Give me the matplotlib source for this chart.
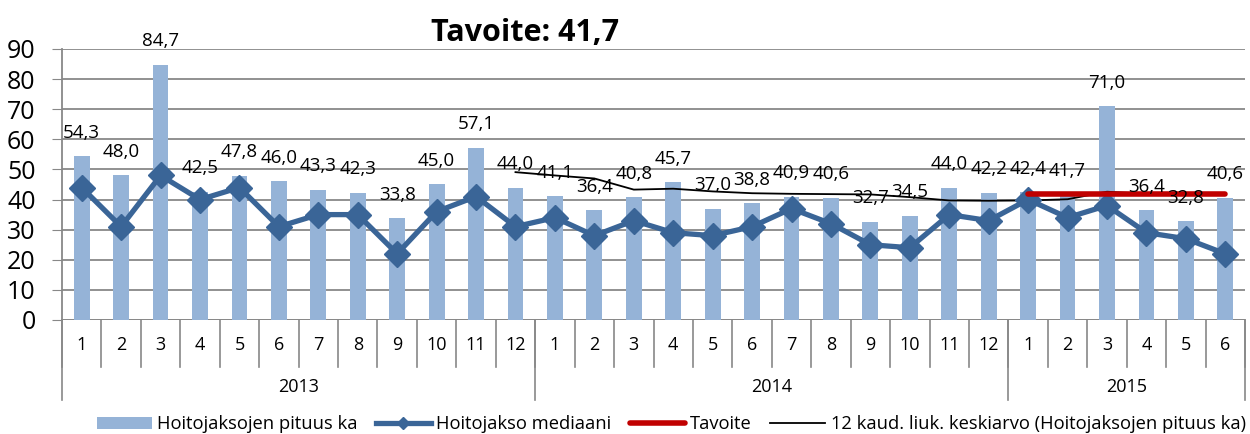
import matplotlib.pyplot as plt

plt.rcParams['font.family'] = ['Open Sans', 'DejaVu Sans']

# data
months = ['1', '2', '3', '4', '5', '6', '7', '8', '9', '10', '11', '12',
          '1', '2', '3', '4', '5', '6', '7', '8', '9', '10', '11', '12',
          '1', '2', '3', '4', '5', '6']
years = ['2013', '2014', '2015']
year_lengths = [12, 12, 6]

pituus_ka = [54.3, 48.0, 84.7, 42.5, 47.8, 46.0, 43.3, 42.3, 33.8, 45.0, 57.1, 44.0,
             41.1, 36.4, 40.8, 45.7, 37.0, 38.8, 40.9, 40.6, 32.7, 34.5, 44.0, 42.2,
             42.4, 41.7, 71.0, 36.4, 32.8, 40.6]
mediaani = [44, 31, 48, 40, 44, 31, 35, 35, 22, 36, 41, 31,
            34, 28, 33, 29, 28, 31, 37, 32, 25, 24, 35, 33,
            40, 34, 38, 29, 27, 22]
# 12 kaud. liukuva keskiarvo, starts at 2013/12
liuk_ka = [49.1, 48.0, 47.0, 43.3, 43.6, 42.7, 42.1, 41.9, 41.8, 41.7, 40.8, 39.7, 39.6,
           39.7, 40.1, 42.6, 41.9, 41.5, 41.7]
liuk_start = 11
tavoite = 41.7
tavoite_start = 24

x = list(range(len(months)))

fig = plt.figure(figsize=(12.5, 4.34), dpi=100)
ax = fig.add_axes([0.0496, 0.2627, 0.9464, 0.6244])

b = ax.bar(x, pituus_ka, width=0.4, color='#95B3D7', zorder=2,
           label='Hoitojaksojen pituus ka')
m, = ax.plot(x, mediaani, color='#3A6597', lw=3.8, marker='D', markersize=13,
             zorder=4, label='Hoitojakso mediaani')
t, = ax.plot(x[tavoite_start:], [tavoite] * len(x[tavoite_start:]), color='#C00000',
             lw=4, solid_capstyle='round', zorder=5, label='Tavoite')
l, = ax.plot(x[liuk_start:], liuk_ka, color='black', lw=1.3, zorder=3,
             label='12 kaud. liuk. keskiarvo (Hoitojaksojen pituus ka)')

for i, v in enumerate(pituus_ka):
    ax.annotate(('%.1f' % v).replace('.', ','), (i, v), xytext=(0, 17),
                textcoords='offset points', ha='center', va='center',
                fontsize=13.5, zorder=6)

ax.set_xlim(-0.5, len(months) - 0.5)
ax.set_ylim(0, 90)
ax.set_yticks(range(0, 100, 10))
ax.tick_params(axis='y', labelsize=18, length=7, color='#888888', pad=12)
ax.grid(axis='y', color='#888888', lw=1.3, zorder=0)
for s in ['top', 'right', 'bottom']:
    ax.spines[s].set_visible(False)
ax.spines['left'].set_color('#888888')
ax.spines['left'].set_linewidth(1.3)
ax.axhline(0, color='#888888', lw=1.3, zorder=1)

# two level category axis
ax.set_xticks([])
tr = ax.get_xaxis_transform()
for i, mo in enumerate(months):
    ax.text(i, -0.092, mo, transform=tr, ha='center', va='center', fontsize=13)
for k in range(len(months) + 1):
    ax.plot([k - 0.5, k - 0.5], [0, -0.173], transform=tr, color='#888888',
            lw=1.2, clip_on=False)
pos = 0
for yr, n in zip(years, year_lengths):
    ax.text(pos + n / 2 - 0.5, -0.247, yr, transform=tr, ha='center',
            va='center', fontsize=13)
    ax.plot([pos - 0.5, pos - 0.5], [0, -0.295], transform=tr,
            color='#888888', lw=1.2, clip_on=False)
    pos += n
ax.plot([pos - 0.5, pos - 0.5], [0, -0.295], transform=tr,
        color='#888888', lw=1.2, clip_on=False)

fig.text(0.42, 0.925, 'Tavoite: 41,7', ha='center', va='center',
         fontsize=22, fontweight='bold')

fig.legend([b, m, t, l], [h.get_label() for h in [b, m, t, l]],
           loc='center', bbox_to_anchor=(0.537, 0.022), ncol=4, frameon=False,
           fontsize=13.2, handlelength=3.0, columnspacing=1.0,
           handletextpad=0.3, markerscale=0.5, borderpad=0.2)

fig.savefig('out.png', dpi=100)
